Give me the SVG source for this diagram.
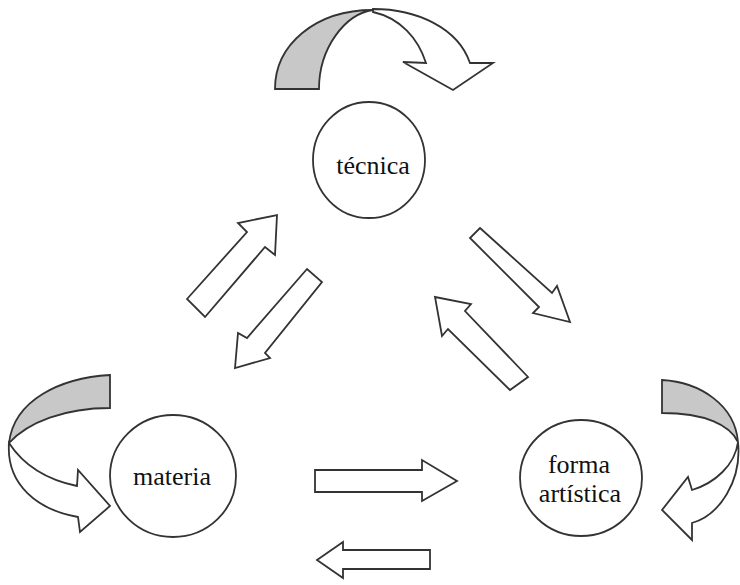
<svg xmlns="http://www.w3.org/2000/svg" width="740" height="585" viewBox="0 0 740 585">
<style>
.node{fill:#fff;stroke:#333;stroke-width:1.8}
.lbl{font-size:26px;fill:#111;text-anchor:middle}
.arr{fill:#fff;stroke:#333;stroke-width:1.8;stroke-linejoin:miter}
.back{fill:#c8c8c8;stroke:#333;stroke-width:1.8}
</style>
<rect width="740" height="585" fill="#fff"/>
<g id="connectors">
  <path class="back" d="M275,89 C275,45 315,10 373,10 C345,14 319,48 319,89 Z"/>
  <path class="arr" d="M373,9 C417,9 458,28 470,63 L493,63 L453,90 L403,62 L426,63 C418,38 400,18 373,12 Z"/>
  <path class="back" d="M110,375 C60,378 14,400 9,443 C28,422 65,408 110,408 Z"/>
  <path class="arr" d="M9,443 C6,485 38,510 78,517 L80,532 L110,506 L78,470 L77,486 C48,480 24,466 9,443 Z"/>
  <path class="back" d="M662,380 C700,382 735,405 738,442 C730,425 705,413 662,413 Z"/>
  <path class="arr" d="M738,442 C742,480 720,515 692,523 L692,540 L662,510 L688,477 L692,490 C715,483 735,465 738,442 Z"/>
  <polygon id="a-mat-tec" class="arr" points="187,299 247,232 238,223 277,215 275,255 265,247 205,317"/>
  <polygon id="a-tec-mat" class="arr" points="307,269 247,338 238,333 235,368 270,358 265,353 322,282"/>
  <polygon id="a-tec-for" class="arr" points="480,228 552,293 557,286 570,322 533,313 539,307 470,238"/>
  <polygon id="a-for-tec" class="arr" points="510,390 448,329 442,336 435,297 471,304 465,311 528,377"/>
  <polygon id="a-mat-for" class="arr" points="315,470 422,470 422,460 457,481 422,501 422,492 315,492"/>
  <polygon id="a-for-mat" class="arr" points="430,550 343,550 343,542 317,560 343,578 343,569 430,569"/>
</g>
<g id="tecnica">
  <ellipse class="node" cx="369" cy="160" rx="56" ry="58"/>
  <text class="lbl" font-family="Liberation Serif, DejaVu Serif, serif" x="373" y="174">técnica</text>
</g>
<g id="materia">
  <ellipse class="node" cx="173" cy="476" rx="63" ry="61"/>
  <text class="lbl" font-family="Liberation Serif, DejaVu Serif, serif" x="172" y="485">materia</text>
</g>
<g id="forma">
  <ellipse class="node" cx="581" cy="478" rx="61" ry="58"/>
  <text class="lbl" font-family="Liberation Serif, DejaVu Serif, serif" x="579" y="473">forma</text>
  <text class="lbl" font-family="Liberation Serif, DejaVu Serif, serif" x="580" y="502">artística</text>
</g>
</svg>
